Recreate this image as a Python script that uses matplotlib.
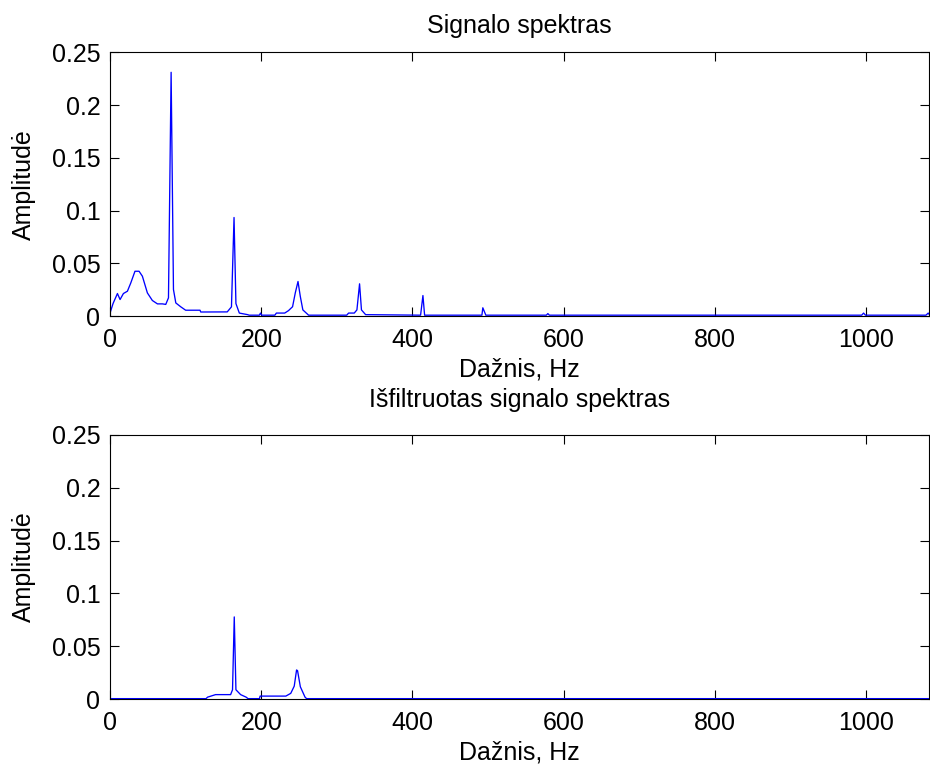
import matplotlib
matplotlib.use("Agg")
import matplotlib.pyplot as plt

plt.rcParams['font.family'] = ['Liberation Sans', 'DejaVu Sans']

# Original spectrum (Hz, amplitude)
freq_orig = [0, 4, 9.8, 13.3, 17.7, 23, 27.5, 33, 38.4, 42.8, 49.4, 56, 62.7, 69.3, 73.7,
             77.3, 80.8, 83.9, 87, 93.6, 100, 119, 120, 155, 160.6, 164, 166.5, 171,
             182, 184, 197.5, 199, 200.5, 218, 220, 231, 236, 241.4, 245, 248.6, 251.6,
             255, 262.6, 313, 315.5, 323, 326.5, 330, 332.5, 338, 410.7, 413.8, 416,
             491.8, 493, 497, 577, 579, 581, 994, 996.5, 999, 1079, 1082, 1083]
amp_orig = [0.003, 0.012, 0.0215, 0.0158, 0.0215, 0.0237, 0.0316, 0.0426, 0.0426, 0.0379,
            0.0221, 0.0149, 0.0117, 0.0117, 0.0112, 0.0174, 0.231, 0.0253, 0.0126, 0.0089,
            0.0057, 0.0057, 0.004, 0.0041, 0.0089, 0.0935, 0.012, 0.003, 0.0015, 0.001,
            0.001, 0.003, 0.001, 0.001, 0.003, 0.003, 0.0053, 0.009, 0.0221, 0.0329,
            0.0189, 0.006, 0.001, 0.001, 0.003, 0.003, 0.006, 0.0307, 0.006, 0.0015,
            0.001, 0.0196, 0.001, 0.001, 0.008, 0.001, 0.001, 0.0025, 0.001, 0.001,
            0.003, 0.001, 0.001, 0.003, 0.002]

# Filtered spectrum
freq_filt = [0, 127, 129, 139.6, 159.5, 162, 164.3, 166.5, 172.7, 180, 182.5, 197.6,
             198.5, 232.5, 239, 243.6, 246.7, 248, 251.7, 257.9, 260, 1083]
amp_filt = [0.0006, 0.0006, 0.002, 0.0044, 0.0044, 0.009, 0.0778, 0.009, 0.0044, 0.002,
            0.0006, 0.0006, 0.003, 0.003, 0.0056, 0.0124, 0.0277, 0.027, 0.0118, 0.002,
            0.0006, 0.0006]

xticks = [0, 200, 400, 600, 800, 1000]
yticks = [0, 0.05, 0.1, 0.15, 0.2, 0.25]
ytick_labels = ['0', '0.05', '0.1', '0.15', '0.2', '0.25']

titles = ['Signalo spektras', 'Išfiltruotas signalo spektras']
xlabel = 'Dažnis, Hz'
ylabel = 'Amplitudė'

fig = plt.figure(figsize=(9.30, 7.67), dpi=100)
ax1 = fig.add_axes([0.1183, 0.5877, 0.8806, 0.3442])
ax2 = fig.add_axes([0.1183, 0.0883, 0.8806, 0.3450])

fs = 18
title_pads = [13.5, 20]
for ax, fx, fy, title, tp in [(ax1, freq_orig, amp_orig, titles[0], title_pads[0]),
                              (ax2, freq_filt, amp_filt, titles[1], title_pads[1])]:
    ax.plot(fx, fy, color=(0, 0, 1), linewidth=0.95)
    ax.set_xlim(0, 1083)
    ax.set_ylim(0, 0.25)
    ax.set_xticks(xticks)
    ax.set_yticks(yticks)
    ax.set_yticklabels(ytick_labels)
    ax.tick_params(direction='in', length=6.5, width=0.8, top=True, right=True,
                   labelsize=fs)
    ax.tick_params(axis='x', pad=8.5)
    ax.tick_params(axis='y', pad=7)
    for s in ax.spines.values():
        s.set_linewidth(0.8)
    ax.set_title(title, fontsize=fs, pad=tp)
    ax.set_xlabel(xlabel, fontsize=fs, labelpad=4)
    ax.set_ylabel(ylabel, fontsize=fs, labelpad=11)

fig.savefig('out.png', dpi=100)
